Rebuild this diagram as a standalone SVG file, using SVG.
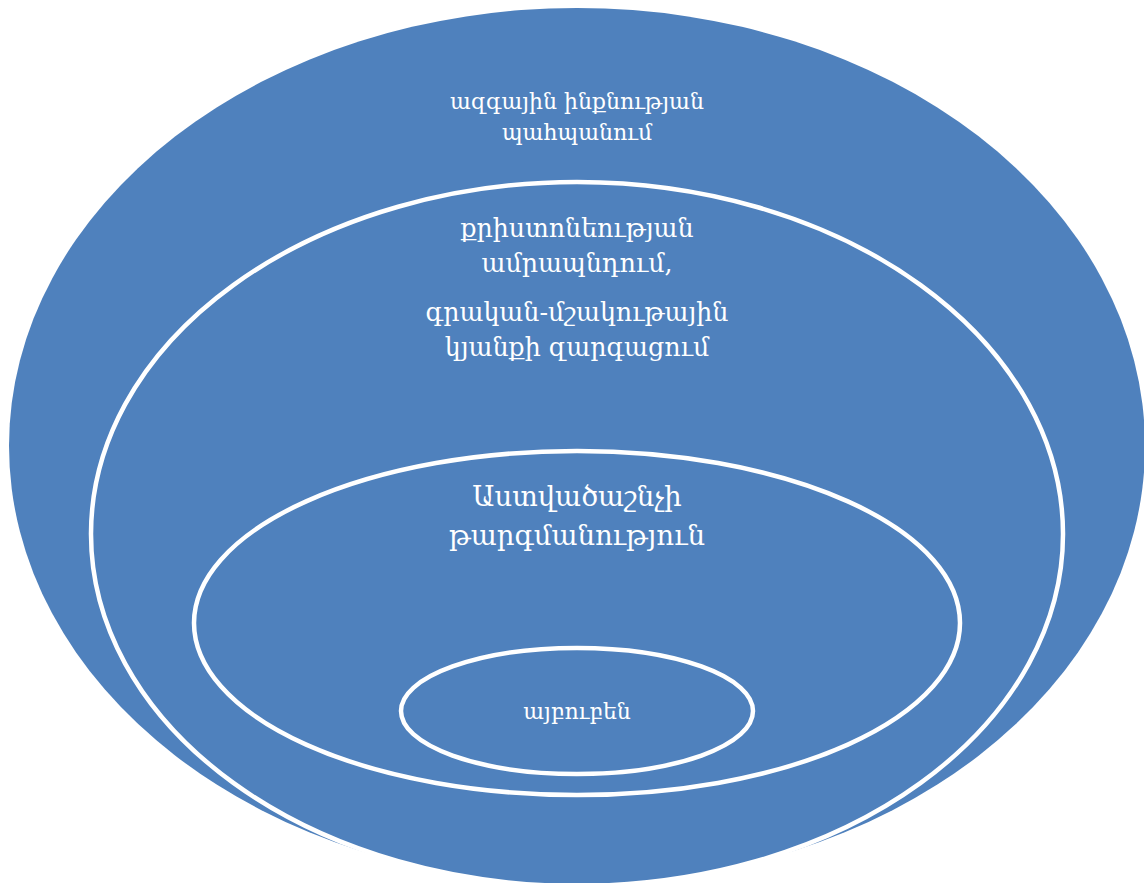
<svg xmlns="http://www.w3.org/2000/svg" width="1144" height="883" viewBox="0 0 1144 883">
<style>
.e{fill:#4f81bd}
.s{fill:#4f81bd;stroke:#fff;stroke-width:4.5}
.t{fill:#fff;font-family:"DejaVu Serif","Noto Sans",serif;text-anchor:middle}
</style>
<rect width="1144" height="883" fill="#fff"/>
<g id="n1"><ellipse class="e" cx="577" cy="446" rx="568" ry="438"/>
<text class="t" font-size="22"><tspan x="577" y="109">ազգային ինքնության</tspan><tspan x="577" y="140">պահպանում</tspan></text></g>
<g id="n2"><ellipse class="s" cx="577" cy="534" rx="486" ry="352"/>
<text class="t" font-size="25.3"><tspan x="577" y="237">քրիստոնեության</tspan><tspan x="577" y="272">ամրապնդում,</tspan><tspan x="577" y="321">գրական-մշակութային</tspan><tspan x="577" y="356">կյանքի զարգացում</tspan></text></g>
<g id="n3"><ellipse class="s" cx="577" cy="623" rx="383" ry="172"/>
<text class="t" font-size="27.5"><tspan x="577" y="506">Աստվածաշնչի</tspan><tspan x="577" y="545">թարգմանություն</tspan></text></g>
<g id="n4"><ellipse class="s" cx="577" cy="711" rx="176" ry="63"/>
<text class="t" font-size="22" x="577" y="719">այբուբեն</text></g>
<g id="connectors"/>
</svg>
